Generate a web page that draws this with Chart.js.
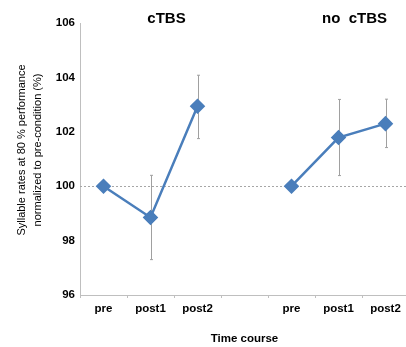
<!DOCTYPE html>
<html>
<head>
<meta charset="utf-8">
<script src="https://cdn.jsdelivr.net/npm/chart.js@4/dist/chart.umd.min.js"></script>
<style>
  body { margin: 0; background: #fff; }
  #wrap { width: 406px; height: 347px; }
</style>
</head>
<body>
<div id="wrap"><canvas id="canvas" width="406" height="347"></canvas></div>
<script>
// categories (blank slot separates the two conditions)
var labels = ['pre', 'post1', 'post2', '', 'pre', 'post1', 'post2'];
// mean values
var means = [100, 98.85, 102.94, null, 100, 101.79, 102.3];
// error bar ends
var errHigh = [null, 100.4, 104.08, null, null, 103.19, 103.2];
var errLow = [null, 97.3, 101.75, null, null, 100.39, 101.42];
// group titles and where they sit
var groupTitles = ['cTBS', 'no  cTBS'];
var groupIndex = [1, 5];
var yTicks = [96, 98, 100, 102, 104, 106];
var yTitle = ['Syllable rates at 80 % performance', 'normalized to pre-condition (%)'];

var font = 'Liberation Sans, Arial, sans-serif';

var extras = {
  id: 'extras',
  afterLayout: function(chart) {
    // the original plot runs a few px past the right edge of the image
    var x = chart.scales.x;
    var r = 409;
    x.right = r;
    x.width = r - x.left;
    chart.chartArea.right = r;
    chart.chartArea.width = r - chart.chartArea.left;
    x.configure();
  },
  beforeDatasetsDraw: function(chart) {
    var ctx = chart.ctx;
    var x = chart.scales.x, y = chart.scales.y;
    var area = chart.chartArea;
    // dotted reference line at 100
    ctx.save();
    ctx.strokeStyle = '#a6a6a6';
    ctx.lineWidth = 1;
    ctx.setLineDash([2, 2]);
    ctx.beginPath();
    var y100 = Math.round(y.getPixelForValue(100)) + 0.5;
    ctx.moveTo(area.left, y100);
    ctx.lineTo(area.right, y100);
    ctx.stroke();
    ctx.setLineDash([]);
    // error bars
    ctx.strokeStyle = '#a0a0a0';
    for (var i = 0; i < labels.length; i++) {
      if (errHigh[i] == null) continue;
      var px = Math.round(x.getPixelForValue(i)) + 0.5;
      var top = y.getPixelForValue(errHigh[i]);
      var bot = y.getPixelForValue(errLow[i]);
      ctx.beginPath();
      ctx.moveTo(px, top); ctx.lineTo(px, bot);
      ctx.moveTo(px - 1.5, top); ctx.lineTo(px + 1.5, top);
      ctx.moveTo(px - 1.5, bot); ctx.lineTo(px + 1.5, bot);
      ctx.stroke();
    }
    ctx.restore();
  },
  afterDraw: function(chart) {
    var ctx = chart.ctx;
    var x = chart.scales.x;
    ctx.save();
    ctx.fillStyle = '#000';
    ctx.font = 'bold 15px ' + font;
    ctx.textAlign = 'center';
    ctx.textBaseline = 'middle';
    for (var i = 0; i < groupTitles.length; i++) {
      ctx.fillText(groupTitles[i], x.getPixelForValue(groupIndex[i]) + 16, 19);
    }
    // y axis title, two rotated lines
    ctx.font = '11px ' + font;
    ctx.translate(0, 150);
    ctx.rotate(-Math.PI / 2);
    ctx.fillText(yTitle[0], 0, 22);
    ctx.fillText(yTitle[1], 0, 38);
    ctx.restore();
  }
};

const ctx = document.getElementById('canvas').getContext('2d');
const myChart = new Chart(ctx, {
  type: 'line',
  data: {
    labels: labels,
    datasets: [{
      data: means,
      borderColor: '#4a7ebb',
      backgroundColor: '#4a7ebb',
      borderWidth: 2.5,
      pointStyle: 'rectRot',
      pointRadius: 6,
      pointHoverRadius: 6,
      tension: 0,
      spanGaps: false
    }]
  },
  options: {
    responsive: false,
    animation: false,
    layout: { autoPadding: false, padding: { top: 23, right: 0, left: 0, bottom: 0 } },
    plugins: { legend: { display: false }, tooltip: { enabled: false } },
    scales: {
      x: {
        offset: true,
        afterFit: function(s) { s.height = 52; s.paddingRight = 0; s.paddingLeft = 0; },
        grid: { offset: true, drawOnChartArea: false, tickLength: 3, color: '#bfbfbf' },
        border: { color: '#bfbfbf' },
        ticks: { color: '#000', font: { family: font, size: 11.5, weight: 'bold' }, padding: 4, maxRotation: 0, autoSkip: false },
        title: { display: true, text: 'Time course', color: '#000', font: { family: font, size: 11.5, weight: 'bold' }, padding: { top: 0, bottom: 1 } }
      },
      y: {
        min: 96, max: 106,
        afterFit: function(s) { s.width = 80; },
        afterBuildTicks: function(s) { s.ticks = yTicks.map(function(v) { return { value: v }; }); },
        grid: { drawOnChartArea: false, drawTicks: false, color: '#bfbfbf' },
        border: { color: '#bfbfbf' },
        ticks: { color: '#000', font: { family: font, size: 11.5, weight: 'bold' }, padding: 5 }
      }
    }
  },
  plugins: [extras]
});
</script>
</body>
</html>
